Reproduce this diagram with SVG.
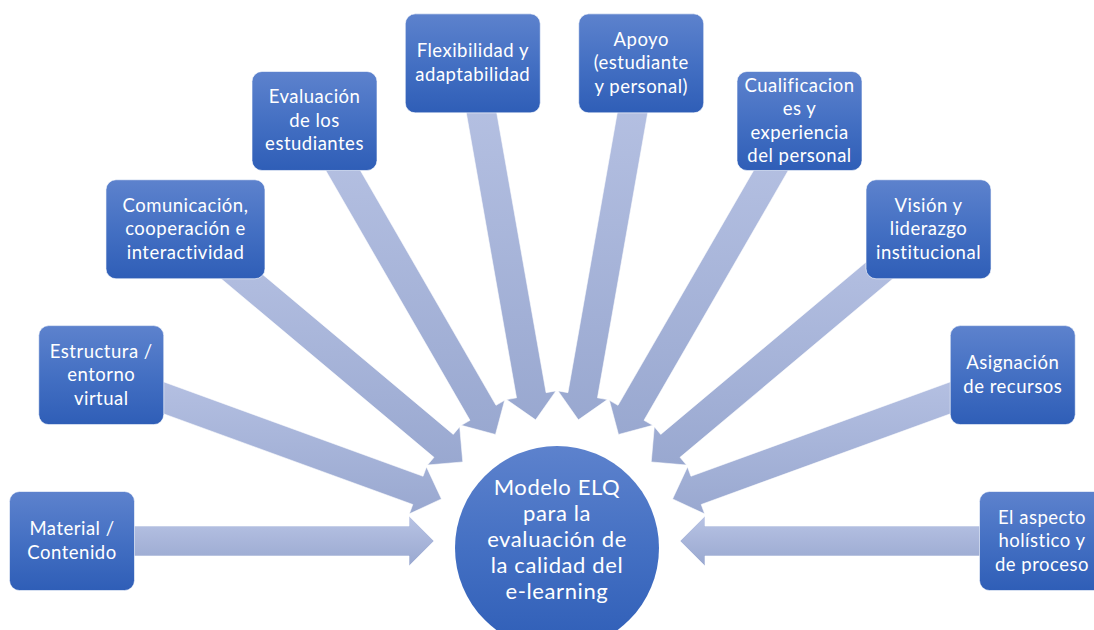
<svg xmlns="http://www.w3.org/2000/svg" width="1094" height="630" viewBox="0 0 1094 630">
  <defs>
    <linearGradient id="arrowFill" x1="0" y1="0" x2="0" y2="1">
      <stop offset="0" stop-color="#b8c3e4"/>
      <stop offset="1" stop-color="#99a8d0"/>
    </linearGradient>
    <linearGradient id="nodeFill" x1="0" y1="0" x2="0" y2="1">
      <stop offset="0" stop-color="#5d82cd"/>
      <stop offset="0.5" stop-color="#4470c3"/>
      <stop offset="1" stop-color="#2f5eb7"/>
    </linearGradient>
    <style>
      .arrow { fill: url(#arrowFill); stroke: #ffffff; stroke-width: 0.8; stroke-opacity: 0.7; }
      .box { fill: url(#nodeFill); stroke: #ffffff; stroke-width: 1; stroke-opacity: 0.6; }
      .hub { fill: url(#nodeFill); }
      .lbl { font-family: Lato, "Liberation Sans", sans-serif; font-size: 18.5px; fill: #ffffff; text-anchor: middle; letter-spacing: 0.5px; }
      .hubLbl { font-family: Lato, "Liberation Sans", sans-serif; font-size: 22px; fill: #ffffff; text-anchor: middle; letter-spacing: 0.6px; }
    </style>
  </defs>

  <!-- radial block arrows, every 20 degrees, pointing at the hub -->
  <g id="connectors">
    <polygon class="arrow" points="72,556 409,556 409,566 434,541 409,516 409,526 72,526"/>
    <polygon class="arrow" points="96.12,389.22 412.80,504.48 409.38,513.87 441.42,498.93 426.48,466.89 423.06,476.28 106.38,361.02"/>
    <polygon class="arrow" points="175.83,240.74 433.99,457.36 427.56,465.02 462.78,461.94 459.70,426.72 453.27,434.38 195.11,217.76"/>
    <polygon class="arrow" points="301.51,128.48 470.01,420.33 461.35,425.33 495.5,434.48 504.65,400.33 495.99,405.33 327.49,113.48"/>
    <polygon class="arrow" points="458.01,65.97 516.53,397.85 506.68,399.59 535.64,419.87 555.92,390.91 546.07,392.65 487.55,60.77"/>
    <polygon class="arrow" points="655.99,65.97 597.47,397.85 607.32,399.59 578.36,419.87 558.08,390.91 567.93,392.65 626.45,60.77"/>
    <polygon class="arrow" points="812.49,128.48 643.99,420.33 652.65,425.33 618.5,434.48 609.35,400.33 618.01,405.33 786.51,113.48"/>
    <polygon class="arrow" points="938.17,240.74 680.01,457.36 686.44,465.02 651.22,461.94 654.30,426.72 660.73,434.38 918.89,217.76"/>
    <polygon class="arrow" points="1017.88,389.22 701.20,504.48 704.62,513.87 672.58,498.93 687.52,466.89 690.94,476.28 1007.62,361.02"/>
    <polygon class="arrow" points="1042,556 705,556 705,566 680,541 705,516 705,526 1042,526"/>
  </g>

  <!-- hub -->
  <g id="hub">
    <circle class="hub" cx="557" cy="548" r="102"/>
    <text class="hubLbl" x="557" y="495">Modelo ELQ</text>
    <text class="hubLbl" x="557" y="521">para la</text>
    <text class="hubLbl" x="557" y="547">evaluación de</text>
    <text class="hubLbl" x="557" y="573">la calidad del</text>
    <text class="hubLbl" x="557" y="599">e-learning</text>
  </g>

  <!-- outer nodes -->
  <g id="material" transform="translate(72,541)">
    <rect class="box" x="-62.5" y="-49.5" width="125" height="99" rx="10"/>
    <text class="lbl" x="0" y="-6">Material /</text>
    <text class="lbl" x="0" y="17.5">Contenido</text>
  </g>
  <g id="estructura" transform="translate(101.25,375.12)">
    <rect class="box" x="-62.5" y="-49.5" width="125" height="99" rx="10"/>
    <text class="lbl" x="0" y="-17.5">Estructura /</text>
    <text class="lbl" x="0" y="6">entorno</text>
    <text class="lbl" x="0" y="29.5">virtual</text>
  </g>
  <g id="comunicacion" transform="translate(185.47,229.25)">
    <rect class="box" x="-79.5" y="-49.5" width="159" height="99" rx="10"/>
    <text class="lbl" x="0" y="-17.5">Comunicación,</text>
    <text class="lbl" x="0" y="6">cooperación e</text>
    <text class="lbl" x="0" y="29.5">interactividad</text>
  </g>
  <g id="evaluacion" transform="translate(314.5,120.98)">
    <rect class="box" x="-62.5" y="-49.5" width="125" height="99" rx="10"/>
    <text class="lbl" x="0" y="-17.5">Evaluación</text>
    <text class="lbl" x="0" y="6">de los</text>
    <text class="lbl" x="0" y="29.5">estudiantes</text>
  </g>
  <g id="flexibilidad" transform="translate(472.78,63.37)">
    <rect class="box" x="-67.5" y="-49.5" width="135" height="99" rx="10"/>
    <text class="lbl" x="0" y="-6">Flexibilidad y</text>
    <text class="lbl" x="0" y="17.5">adaptabilidad</text>
  </g>
  <g id="apoyo" transform="translate(641.22,63.37)">
    <rect class="box" x="-62.5" y="-49.5" width="125" height="99" rx="10"/>
    <text class="lbl" x="0" y="-17.5">Apoyo</text>
    <text class="lbl" x="0" y="6">(estudiante</text>
    <text class="lbl" x="0" y="29.5">y personal)</text>
  </g>
  <g id="cualificaciones" transform="translate(799.5,120.98)">
    <rect class="box" x="-62.5" y="-49.5" width="125" height="99" rx="10"/>
    <text class="lbl" x="0" y="-29.25">Cualificacion</text>
    <text class="lbl" x="0" y="-5.75">es y</text>
    <text class="lbl" x="0" y="17.75">experiencia</text>
    <text class="lbl" x="0" y="41.25">del personal</text>
  </g>
  <g id="vision" transform="translate(928.53,229.25)">
    <rect class="box" x="-62.5" y="-49.5" width="125" height="99" rx="10"/>
    <text class="lbl" x="0" y="-17.5">Visión y</text>
    <text class="lbl" x="0" y="6">liderazgo</text>
    <text class="lbl" x="0" y="29.5">institucional</text>
  </g>
  <g id="asignacion" transform="translate(1012.75,375.12)">
    <rect class="box" x="-62.5" y="-49.5" width="125" height="99" rx="10"/>
    <text class="lbl" x="0" y="-6">Asignación</text>
    <text class="lbl" x="0" y="17.5">de recursos</text>
  </g>
  <g id="holistico" transform="translate(1042,541)">
    <rect class="box" x="-62.5" y="-49.5" width="125" height="99" rx="10"/>
    <text class="lbl" x="0" y="-17.5">El aspecto</text>
    <text class="lbl" x="0" y="6">holístico y</text>
    <text class="lbl" x="0" y="29.5">de proceso</text>
  </g>
</svg>
